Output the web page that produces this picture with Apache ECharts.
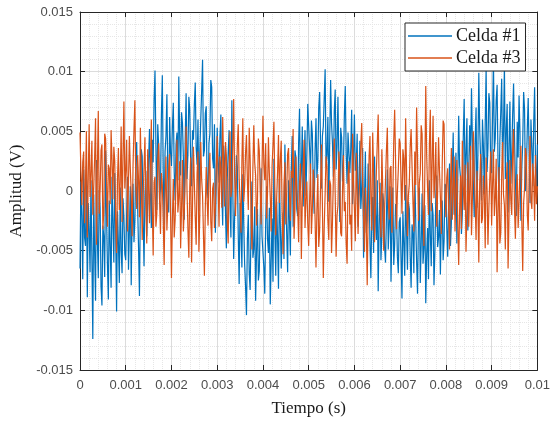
<!DOCTYPE html>
<html>
<head>
<meta charset="utf-8">
<script src="https://cdn.jsdelivr.net/npm/echarts@6/dist/echarts.min.js"></script>
<style>
html,body{margin:0;padding:0;background:#fff;}
#chart{width:553px;height:422px;}
</style>
</head>
<body>
<div id="chart"></div>
<script>
// Sampling of the time axis (s)
const tStart = 0;
const tStep = 0.00002;
const xTicks = [0,0.001,0.002,0.003,0.004,0.005,0.006,0.007,0.008,0.009,0.01];
const yTicks = [-0.015,-0.01,-0.005,0,0.005,0.01,0.015];
const seriesNames = ['Celda #1','Celda #3'];

// Celda #1 amplitude, in mV
const celda1_mV = [
 -6.5,0.8,-2.1,-7.4,1.8,-3.9,-4.6,2.1,-8.9,-1.0,-3.2,-6.8,0.9,-5.5,-12.4,-0.3,-5.1,-9.2,2.6,-4.0,-7.3,0.1,-1.4,-8.0,-9.6,-2.9,-3.8,-7.2,3.4,-1.9,-6.2,-9.1,-0.8,-4.6,-8.1,1.2,-2.7,-6.0,1.5,-3.5,-10.1,-1.7,-4.4,-7.7,0.3,-5.0,-6.9,-0.6,-2.2,-5.3,
 -5.8,-1.9,1.2,-6.6,-3.4,0.4,-7.9,-2.0,0.6,-4.3,-2.5,3.0,4.1,-1.3,-4.7,-8.8,-1.1,3.5,2.9,-2.2,-6.3,-0.4,1.7,-3.8,-0.9,2.6,5.2,-0.1,-3.1,4.3,2.4,7.6,10.1,3.7,-1.6,5.6,3.8,-0.7,0.2,6.4,9.7,1.5,-2.8,3.3,4.6,8.1,1.1,-1.8,6.2,3.2,
 2.1,5.3,7.4,1.6,-0.8,3.9,4.9,0.9,9.6,4.5,1.3,6.6,5.7,2.8,-2.4,4.2,8.2,1.0,3.1,7.9,6.8,2.4,0.4,5.1,4.3,7.2,9.1,3.6,2.2,6.0,-1.7,3.3,5.9,8.4,11.0,2.9,3.4,6.5,7.1,0.2,-0.6,4.0,4.8,9.3,8.7,2.7,1.9,5.6,-3.5,0.9,
 5.3,2.4,0.7,4.6,6.4,0.1,-2.9,3.8,2.6,-1.6,-4.8,1.0,3.2,5.1,-1.2,-3.9,7.6,0.5,-5.7,-2.2,-0.4,3.0,2.1,-3.6,-7.8,-1.0,-3.3,-6.4,1.4,-2.7,-6.1,-8.0,-10.4,-4.1,-2.0,-6.9,-8.3,-3.0,0.8,-5.6,-4.9,-1.3,-9.2,-5.2,-1.5,-7.5,-6.7,-2.4,1.9,-3.8,
 -3.8,-6.4,-8.6,-2.6,0.4,-4.0,-5.2,-1.4,-9.5,-5.9,-2.3,-7.6,2.7,-3.2,-7.1,-0.9,-4.0,-8.2,1.0,-2.9,-6.5,-3.4,-1.8,-5.7,3.9,-0.6,-3.6,-6.8,0.9,-2.4,-5.4,1.8,4.6,-3.0,-0.7,3.4,2.8,-1.5,-2.1,4.0,6.9,0.2,1.6,5.4,-1.3,2.5,5.1,-0.4,3.0,7.3,
 7.2,3.6,1.4,5.9,4.8,0.5,-1.9,3.4,6.1,1.1,2.5,7.0,8.3,3.9,0.2,4.6,5.4,7.8,10.2,2.0,3.1,6.2,-0.9,4.3,9.3,5.7,4.0,1.2,6.7,8.5,1.8,3.7,7.9,2.6,-2.6,5.3,4.5,0.8,2.2,6.3,8.8,3.2,0.6,4.9,5.0,1.5,3.5,6.8,-1.1,2.9,
 6.4,1.7,2.0,4.8,-3.0,0.6,4.2,-1.5,0.1,3.6,-5.6,-0.8,3.3,-3.5,-2.4,2.3,1.2,-4.4,-7.3,-1.9,-0.5,-5.2,2.9,-2.0,-4.1,0.9,-8.4,-3.0,0.7,-5.8,-3.7,-0.2,-1.0,-4.7,-6.0,-2.2,1.8,-4.9,-2.8,0.4,-7.6,-3.4,0.3,-6.2,-4.5,-1.1,-1.6,-5.5,-6.9,-2.6,
 -2.2,-5.6,-9.0,-1.7,-4.3,-7.1,0.5,-3.3,-6.6,-0.9,-1.5,-5.4,-8.1,-2.8,-3.5,-6.9,1.6,-2.4,-5.9,-8.6,-2.6,0.3,-7.7,-4.5,-0.2,-6.1,-4.8,-1.2,-9.4,-5.3,-3.1,-7.4,0.9,-3.6,-6.3,-1.0,-2.0,-7.9,-5.0,-0.4,1.3,-4.7,-3.9,-1.6,-7.0,-2.5,-0.8,-5.8,-4.2,0.6,
 0.4,-3.1,-5.5,-0.9,2.3,-4.6,-2.7,1.4,4.9,-2.0,-0.6,3.2,-4.4,0.9,6.3,2.1,1.1,-3.6,-1.9,4.5,7.7,0.3,3.2,6.1,-3.3,1.9,5.5,2.6,8.6,4.2,0.8,-2.2,4.1,7.0,-1.4,3.0,9.9,5.1,2.7,-0.8,6.0,3.8,-0.3,5.5,10.3,1.6,3.6,8.2,7.4,2.0,
 1.5,5.9,11.1,3.3,4.4,7.6,8.9,2.5,-0.7,4.2,6.6,9.4,2.3,5.0,10.6,1.0,5.2,7.3,-1.8,3.6,7.5,0.6,3.0,6.4,9.0,4.7,0.9,-2.1,5.8,2.8,8.0,4.9,-2.5,1.9,4.0,8.3,6.9,0.0,1.7,5.2,7.8,3.1,-1.0,6.0,3.7,0.4,5.6,8.7,2.4,-0.5,
 3.9
];

// Celda #3 amplitude, in mV
const celda3_mV = [
 4.9,1.6,-1.2,2.4,3.3,-2.7,0.6,5.0,-3.9,1.1,5.6,-0.5,1.4,4.2,-2.0,0.3,2.8,6.1,-4.5,2.0,6.7,-1.9,0.1,3.4,3.9,-3.2,-1.8,4.8,4.4,0.7,-3.0,2.2,1.9,-1.1,5.1,2.6,-0.7,3.7,2.5,-2.3,-5.2,1.0,3.6,-1.6,0.8,5.4,-2.6,2.9,7.5,0.2,
 1.7,4.3,-3.4,0.8,4.6,1.9,-0.3,-3.8,2.2,5.1,7.6,0.4,-1.5,3.0,0.9,-2.2,5.3,1.3,-4.1,-0.6,2.0,4.5,-0.9,-4.4,3.5,0.1,-2.7,2.3,6.0,-1.3,-5.4,0.7,1.2,-3.0,-1.9,2.6,4.0,-0.8,-3.6,1.5,0.5,-2.4,-6.2,-0.2,2.9,-3.3,-1.1,1.8,3.1,-2.0,
 -7.3,-2.5,1.0,-3.9,-2.4,0.9,4.3,-1.8,-0.6,2.5,-4.8,-1.5,2.6,-3.4,-1.7,1.2,5.4,0.0,-3.2,-5.6,0.3,2.8,-6.0,-1.2,3.7,0.6,-2.2,-4.5,1.5,3.3,-5.1,-2.0,4.1,1.0,-0.4,-3.7,-7.1,-1.4,2.0,-0.8,-2.9,1.7,3.2,-2.6,-4.2,0.2,0.7,-3.1,-1.4,2.1,
 4.6,0.7,-3.0,2.9,1.8,-1.4,6.2,2.3,-1.3,4.1,3.0,-2.6,-4.4,1.6,5.0,-0.5,0.2,3.6,7.7,1.4,-2.1,0.8,3.8,5.6,1.1,-1.0,-3.5,2.5,6.1,-0.9,0.4,3.2,4.7,0.9,-1.6,5.3,2.7,-2.2,-4.9,1.9,5.5,2.4,1.3,-2.9,-0.8,4.4,3.4,0.1,-2.8,2.0,
 6.3,2.2,0.9,4.0,-2.3,-0.2,4.5,1.5,-0.5,-3.4,2.1,3.9,5.8,0.3,-3.7,-0.6,1.6,4.7,-1.0,2.6,4.2,-1.9,-5.3,0.5,2.4,-2.8,0.0,3.1,3.6,-0.4,-2.5,1.7,1.1,5.2,-4.0,-1.5,2.9,0.1,-1.3,-4.3,0.6,2.3,-5.7,-0.9,1.9,4.3,-3.1,-0.7,0.8,-2.7,
 -4.6,-0.9,2.3,-3.6,-1.5,1.8,0.7,-2.3,-6.4,-1.6,1.4,-4.7,-3.3,0.4,3.9,-1.1,-7.3,-3.0,-0.2,2.9,2.0,-2.4,-4.1,0.9,0.5,-5.2,-2.6,1.2,4.4,-0.3,-5.5,-2.1,-1.2,3.3,1.7,-3.5,-3.8,0.0,3.0,-1.7,-0.9,-4.4,-6.1,1.0,2.5,-2.8,-2.0,-5.0,4.8,0.6,
 -1.4,-4.2,3.2,0.1,-3.6,-0.5,1.2,3.9,5.7,1.0,-2.3,-5.1,0.3,-2.9,-7.9,-1.8,2.8,4.6,-0.6,-3.3,4.9,1.4,-4.3,-1.2,1.6,4.0,6.4,0.8,-1.1,-3.9,3.5,0.2,-5.0,-1.6,0.9,3.4,5.3,-0.7,-2.4,1.9,2.1,-3.5,-0.4,4.2,6.8,2.6,-3.2,-0.1,1.8,4.4,
 4.0,0.9,-1.9,3.5,2.7,-0.8,6.1,1.8,-3.8,-0.4,0.6,3.7,5.2,2.1,-0.9,-3.4,3.3,0.5,7.0,2.9,-2.5,0.7,1.5,5.5,4.8,-1.3,-4.6,1.6,8.8,3.0,0.2,-2.0,3.9,6.8,-1.7,2.4,6.3,-0.6,1.0,4.1,-3.0,0.0,4.5,1.7,-0.5,-3.6,2.2,5.9,5.6,0.4,
 -2.2,1.1,1.9,-1.5,-4.9,0.3,3.6,-2.4,0.4,2.9,-3.4,-0.1,2.6,-2.8,-6.2,-1.7,1.3,-3.2,4.2,0.5,-1.6,2.2,-5.1,-1.9,2.4,-3.0,0.1,3.8,-3.7,-0.6,5.0,1.4,-0.8,-4.1,1.7,-1.2,-6.0,0.6,3.1,-2.7,-2.3,1.3,-0.3,-4.8,2.8,0.2,-4.5,-1.4,1.0,3.3,
 -2.9,0.4,3.5,-2.1,-0.6,2.7,-6.8,-1.8,2.0,-4.4,-3.5,1.2,4.1,-0.3,-1.2,-4.9,0.8,2.4,-6.5,-2.2,2.6,-0.7,-2.0,3.4,5.2,-1.4,-4.0,-0.2,1.4,-3.1,-0.9,2.0,3.8,-2.6,-6.7,-1.0,0.2,3.6,2.9,-1.9,-3.3,0.9,4.6,-0.8,-1.5,2.3,1.1,-2.5,3.0,-1.1,
 0.4
];

function toPairs(arr){
  return arr.map((v,i)=>[+(tStart + i*tStep).toFixed(6), v/1000]);
}
function fmt(v){ return String(+(+v).toFixed(4)); }

const chart = echarts.init(document.getElementById('chart'), null, {renderer:'canvas'});
const axisColor = '#262626';
const labelStyle = {color:'#4d4d4d', fontFamily:'Liberation Sans, Arial, sans-serif', fontSize:13};
const serif = 'Liberation Serif, Times New Roman, serif';

const option = {
  animation:false,
  backgroundColor:'#ffffff',
  grid:{left:80, right:13, top:12, bottom:48, containLabel:false},
  legend:{
    orient:'vertical', left:405, top:23,
    data:seriesNames, icon:'rect',
    backgroundColor:'#ffffff', borderColor:axisColor, borderWidth:1,
    padding:[4,5,4,3], itemGap:4, itemWidth:44, itemHeight:1.5,
    textStyle:{fontFamily:serif, fontSize:18, color:'#1a1a1a', padding:[0,0,0,-1]}
  },
  xAxis:[{
    type:'value', min:xTicks[0], max:xTicks[xTicks.length-1], interval:0.001,
    name:'Tiempo (s)', nameLocation:'middle', nameGap:30,
    nameTextStyle:{fontFamily:serif, fontSize:17, color:'#1a1a1a'},
    axisLine:{show:true, onZero:false, lineStyle:{color:axisColor, width:1}},
    axisTick:{show:true, inside:true, length:5, lineStyle:{color:axisColor}},
    axisLabel:{...labelStyle, margin:9, formatter:fmt, showMaxLabel:true, showMinLabel:true},
    splitLine:{show:true, lineStyle:{color:'#dcdcdc', width:1}},
    minorTick:{show:false, splitNumber:5},
    minorSplitLine:{show:true, lineStyle:{color:'#e6e6e6', type:'dotted', width:1}}
  },{
    type:'value', position:'top', min:xTicks[0], max:xTicks[xTicks.length-1], interval:0.001,
    axisLine:{show:true, onZero:false, lineStyle:{color:axisColor, width:1}},
    axisTick:{show:true, inside:true, length:5, lineStyle:{color:axisColor}},
    axisLabel:{show:false}, splitLine:{show:false}
  }],
  yAxis:[{
    type:'value', min:yTicks[0], max:yTicks[yTicks.length-1], interval:0.005,
    name:'Amplitud (V)', nameLocation:'middle', nameGap:53,
    nameTextStyle:{fontFamily:serif, fontSize:17, color:'#1a1a1a'},
    axisLine:{show:true, onZero:false, lineStyle:{color:axisColor, width:1}},
    axisTick:{show:true, inside:true, length:5, lineStyle:{color:axisColor}},
    axisLabel:{...labelStyle, margin:7, formatter:fmt},
    splitLine:{show:true, lineStyle:{color:'#dcdcdc', width:1}},
    minorTick:{show:false, splitNumber:5},
    minorSplitLine:{show:true, lineStyle:{color:'#e6e6e6', type:'dotted', width:1}}
  },{
    type:'value', position:'right', min:yTicks[0], max:yTicks[yTicks.length-1], interval:0.005,
    axisLine:{show:true, onZero:false, lineStyle:{color:axisColor, width:1}},
    axisTick:{show:true, inside:true, length:5, lineStyle:{color:axisColor}},
    axisLabel:{show:false}, splitLine:{show:false}
  }],
  series:[
    {name:seriesNames[0], type:'line', data:toPairs(celda1_mV), symbol:'none',
     lineStyle:{color:'#0072BD', width:1.2}, itemStyle:{color:'#0072BD'}, z:2},
    {name:seriesNames[1], type:'line', data:toPairs(celda3_mV), symbol:'none',
     lineStyle:{color:'#D95319', width:1.2}, itemStyle:{color:'#D95319'}, z:3}
  ]
};
chart.setOption(option);
</script>
</body>
</html>
